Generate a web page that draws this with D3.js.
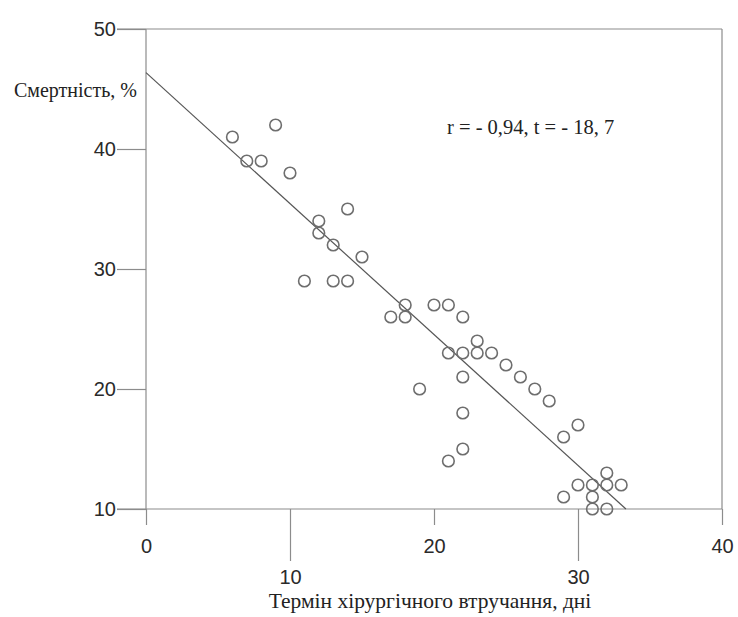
<!DOCTYPE html>
<html lang="uk">
<head>
    <meta charset="UTF-8">
    <title>Смертність vs термін втручання</title>
    <style>
        body { margin: 0; background-color: #fff }
        svg { display: block }
    </style>
</head>
<body>
<script src="https://cdnjs.cloudflare.com/ajax/libs/d3/7.8.5/d3.min.js"></script>
<script>
    const width = 738;
    const height = 617;

    // days of surgical intervention vs mortality, %
    const days      = [6, 7, 8, 9, 10, 11, 12, 12, 13, 13, 14, 14, 15, 17, 18, 18, 19, 20, 21, 21, 21, 22,
                       22, 22, 22, 22, 23, 23, 24, 25, 26, 27, 28, 29, 29, 30, 30, 31, 31, 31, 32, 32, 32, 33];
    const mortality = [41, 39, 39, 42, 38, 29, 34, 33, 32, 29, 35, 29, 31, 26, 27, 26, 20, 27, 27, 23, 14, 26,
                       23, 21, 18, 15, 24, 23, 23, 22, 21, 20, 19, 16, 11, 17, 12, 12, 11, 10, 13, 12, 10, 12];

    const xTicksUpper = [0, 20, 40];
    const xTicksLower = [10, 30];
    const yTicks = [10, 20, 30, 40, 50];

    // fitted line: mortality = intercept + slope * days
    const intercept = 46.36;
    const slope = -1.091;

    const yTitle = "Смертність, %";
    const xTitle = "Термін хірургічного втручання, дні";
    const note = "r = - 0,94, t = - 18, 7";

    const x = d3.scaleLinear().domain([0, 40]).range([146, 722]);
    const y = d3.scaleLinear().domain([10, 50]).range([509, 29]);

    const axisColor = "#8c8c8c";
    const sans = "Liberation Sans, Arial, sans-serif";
    const serif = "Liberation Serif, Times New Roman, Tinos, DejaVu Serif, serif";

    const svg = d3.select("body").append("svg")
        .attr("width", width)
        .attr("height", height);

    // frame
    const frame = svg.append("g")
        .attr("stroke", axisColor)
        .attr("stroke-width", 1.2)
        .attr("fill", "none");
    frame.append("line")   // top
        .attr("x1", x(0) - 29).attr("x2", x(40))
        .attr("y1", y(50)).attr("y2", y(50));
    frame.append("line")   // right
        .attr("x1", x(40)).attr("x2", x(40))
        .attr("y1", y(50)).attr("y2", y(10));
    frame.append("line")   // bottom
        .attr("x1", x(0) - 29).attr("x2", x(40))
        .attr("y1", y(10)).attr("y2", y(10));
    frame.append("line")   // left
        .attr("x1", x(0)).attr("x2", x(0))
        .attr("y1", y(50)).attr("y2", y(10));

    function styleAxis(g) {
        g.attr("font-family", sans).attr("font-size", 20);
        g.select(".domain").remove();
        g.selectAll(".tick line").attr("stroke", axisColor).attr("stroke-width", 1.2);
        g.selectAll(".tick text").attr("fill", "#2a2a2a");
    }

    svg.append("g")
        .attr("transform", `translate(0,${y(10)})`)
        .call(d3.axisBottom(x).tickValues(xTicksUpper).tickSize(16).tickPadding(14).tickFormat(d3.format("d")))
        .call(styleAxis);

    svg.append("g")
        .attr("transform", `translate(0,${y(10)})`)
        .call(d3.axisBottom(x).tickValues(xTicksLower).tickSize(52).tickPadding(9).tickFormat(d3.format("d")))
        .call(styleAxis);

    svg.append("g")
        .attr("transform", `translate(${x(0)},0)`)
        .call(d3.axisLeft(y).tickValues(yTicks).tickSize(29).tickPadding(1).tickFormat(d3.format("d")))
        .call(styleAxis);

    // regression line
    const xEnd = (10 - intercept) / slope;
    svg.append("line")
        .attr("x1", x(0)).attr("y1", y(intercept))
        .attr("x2", x(xEnd)).attr("y2", y(intercept + slope * xEnd))
        .attr("stroke", "#555")
        .attr("stroke-width", 1.2);

    // points
    svg.append("g")
        .selectAll("circle")
        .data(d3.range(days.length))
        .enter()
        .append("circle")
        .attr("cx", i => x(days[i]))
        .attr("cy", i => y(mortality[i]))
        .attr("r", 5.8)
        .attr("fill", "none")
        .attr("stroke", "#6e6e6e")
        .attr("stroke-width", 1.6);

    // texts
    const labels = svg.append("g")
        .attr("font-family", serif)
        .attr("fill", "#222");

    labels.append("text")
        .attr("x", 137).attr("y", 97)
        .attr("text-anchor", "end")
        .attr("font-size", 20)
        .text(yTitle);

    labels.append("text")
        .attr("x", 430).attr("y", 608)
        .attr("text-anchor", "middle")
        .attr("font-size", 21.5)
        .text(xTitle);

    labels.append("text")
        .attr("x", 447).attr("y", 134)
        .attr("font-size", 20.5)
        .text(note);
</script>
</body>
</html>
